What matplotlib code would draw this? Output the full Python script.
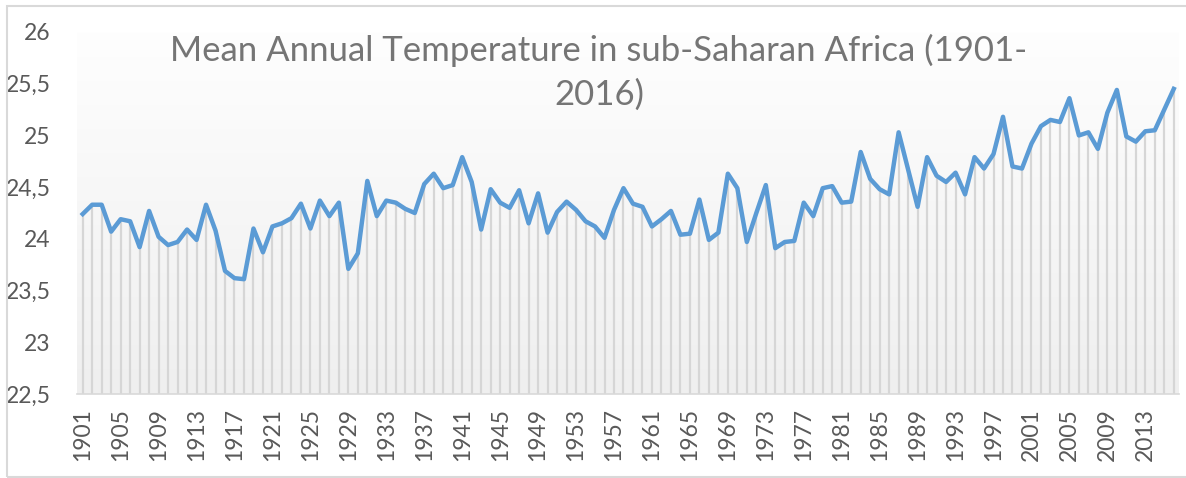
import matplotlib
matplotlib.use("Agg")
import matplotlib.pyplot as plt
import numpy as np
from matplotlib.patches import Rectangle

years = list(range(1901, 2017))
temps = [
    24.24, 24.33, 24.33, 24.07, 24.19, 24.17, 23.92, 24.27, 24.02, 23.94,  # 1901-1910
    23.97, 24.09, 23.99, 24.33, 24.08, 23.69, 23.62, 23.61, 24.10, 23.87,  # 1911-1920
    24.12, 24.15, 24.20, 24.34, 24.10, 24.37, 24.22, 24.35, 23.71, 23.86,  # 1921-1930
    24.56, 24.22, 24.37, 24.35, 24.29, 24.25, 24.53, 24.63, 24.49, 24.52,  # 1931-1940
    24.79, 24.55, 24.09, 24.48, 24.35, 24.30, 24.47, 24.15, 24.44, 24.06,  # 1941-1950
    24.26, 24.36, 24.28, 24.17, 24.12, 24.01, 24.28, 24.49, 24.34, 24.31,  # 1951-1960
    24.12, 24.19, 24.27, 24.04, 24.05, 24.38, 23.99, 24.06, 24.63, 24.49,  # 1961-1970
    23.97, 24.25, 24.52, 23.91, 23.97, 23.98, 24.35, 24.22, 24.49, 24.51,  # 1971-1980
    24.35, 24.36, 24.84, 24.58, 24.48, 24.43, 25.03, 24.67, 24.31, 24.79,  # 1981-1990
    24.61, 24.55, 24.64, 24.43, 24.79, 24.68, 24.82, 25.18, 24.70, 24.68,  # 1991-2000
    24.92, 25.09, 25.15, 25.13, 25.36, 25.00, 25.03, 24.87, 25.22, 25.44,  # 2001-2010
    24.99, 24.94, 25.04, 25.05, 25.25, 25.45,                              # 2011-2016
]
tick_years = list(range(1901, 2017, 4))
y_ticks = [22.5, 23, 23.5, 24, 24.5, 25, 25.5, 26]
y_labels = ["22,5", "23", "23,5", "24", "24,5", "25", "25,5", "26"]

plt.rcParams["font.family"] = ["Lato", "DejaVu Sans"]

W, H = 1186, 478
fig = plt.figure(figsize=(W / 100, H / 100), dpi=100)
fig.patch.set_facecolor("white")

# chart border (right side falls outside the image)
fig.patches.append(Rectangle((7 / W, 1 / H), 1.2, 471 / H, transform=fig.transFigure,
                             fill=False, edgecolor="#d9d9d9", lw=1.5))

ax = fig.add_axes([77 / W, 84 / H, 1102 / W, 362 / H])
ax.set_xlim(1900.4, 2016.55)
ax.set_ylim(22.5, 26.0)

# light gradient in the plot area
grad = np.linspace(1.0, 0.0, 256).reshape(-1, 1)
ax.imshow(grad, extent=[1900.4, 2016.55, 22.5, 26.0], aspect="auto",
          cmap=matplotlib.colors.LinearSegmentedColormap.from_list("g", ["#efefef", "#fefefe"]),
          vmin=0, vmax=1, zorder=0, origin="upper")

ax.vlines(years, 22.5, temps, color="#d6d6d6", lw=1.6, zorder=1)
ax.plot(years, temps, color="#5b9bd5", lw=3.2, solid_joinstyle="round", zorder=2)

for s in ["top", "right", "left"]:
    ax.spines[s].set_visible(False)
ax.spines["bottom"].set_color("#d9d9d9")
ax.spines["bottom"].set_linewidth(1.2)

ax.set_yticks(y_ticks)
ax.set_yticklabels(y_labels)
ax.set_xticks(tick_years)
ax.set_xticklabels([str(y) for y in tick_years], rotation=90)
ax.tick_params(axis="y", length=0, pad=19, labelsize=16.5, labelcolor="#595959")
ax.tick_params(axis="x", length=0, pad=10, labelsize=16.5, labelcolor="#595959")

fig.text(599 / W, 1 - 34 / H, "Mean Annual Temperature in sub-Saharan Africa (1901-\n2016)",
         ha="center", va="top", fontsize=25, color="#757575", linespacing=1.45)

fig.savefig("out.png", dpi=100)
